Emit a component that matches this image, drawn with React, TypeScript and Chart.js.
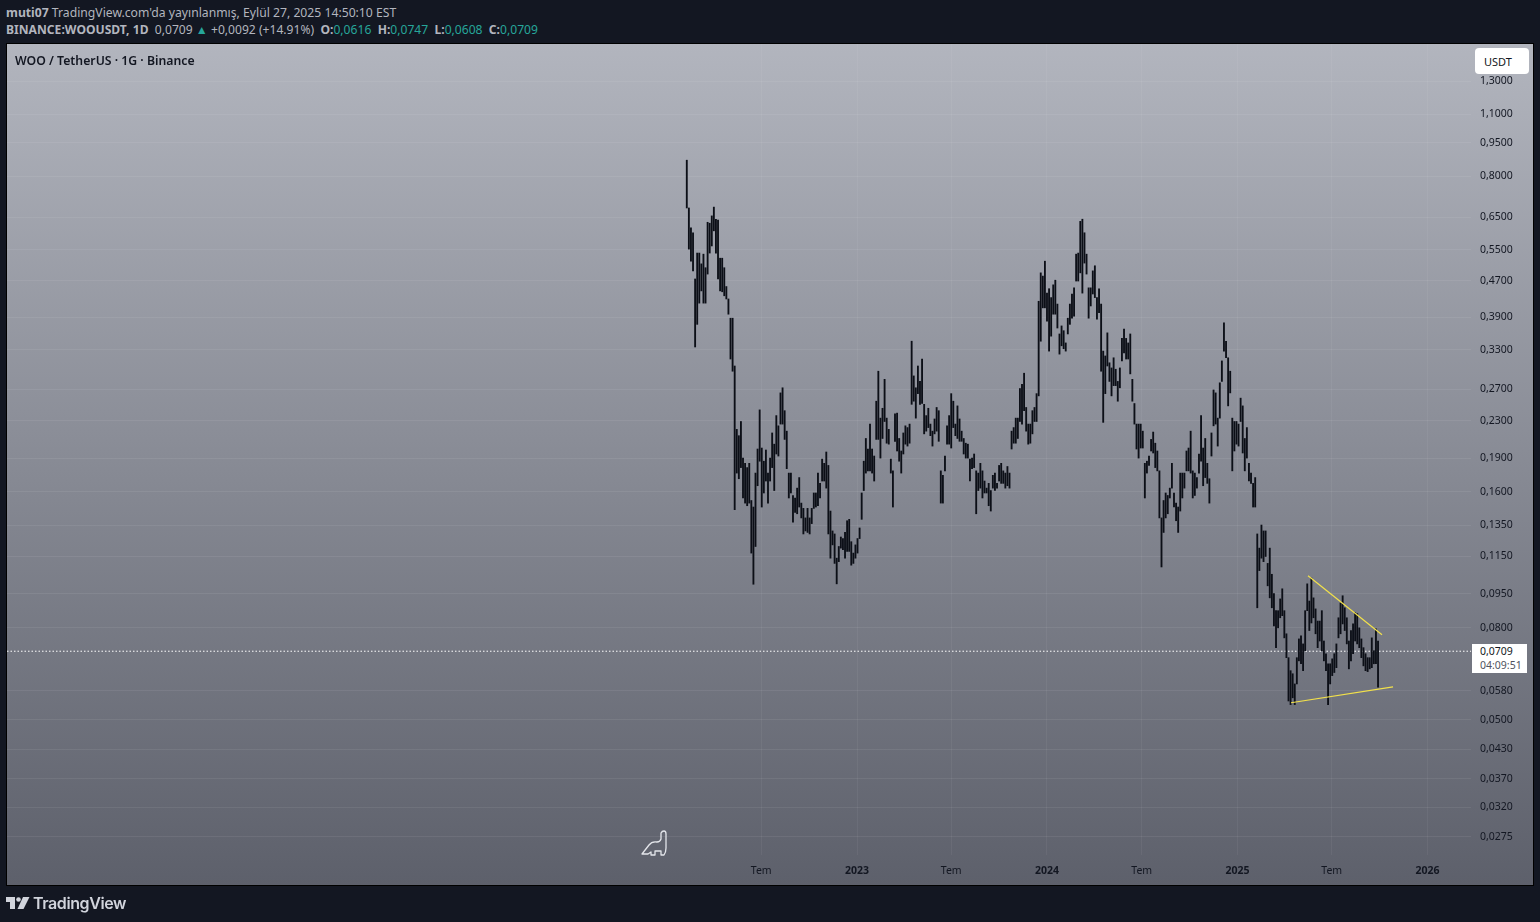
import React, { useEffect, useRef } from "react";
import { Chart, registerables } from "chart.js";

Chart.register(...registerables);

// Bars are sampled every 4 days; day numbers count from 2023-01-01.
const firstDay = -327;
const dayStep = 4;
const highs = [
.869,.681,.615,.600,.474,.541,.541,.512,.538,.502,.633,.630,.654,.684,.643,.640,.527,.527,.502,.456,
.428,.388,.388,.304,.220,.213,.229,.190,.185,.181,.185,.153,.148,.176,.199,.243,.200,.187,.198,.176,
.190,.216,.204,.236,.224,.265,.272,.242,.218,.176,.176,.157,.155,.163,.172,.151,.147,.140,.147,.140,
.147,.159,.159,.176,.167,.189,.185,.196,.183,.145,.131,.129,.114,.121,.127,.126,.130,.138,.139,.124,
.117,.122,.126,.133,.159,.187,.210,.199,.226,.199,.192,.254,.296,.233,.245,.284,.233,.220,.189,.178,
.238,.239,.210,.197,.216,.224,.222,.226,.345,.289,.272,.304,.281,.315,.250,.236,.245,.226,.218,.232,
.246,.242,.178,.174,.192,.224,.236,.264,.254,.226,.248,.232,.218,.210,.205,.204,.189,.190,.194,.178,
.176,.185,.178,.169,.163,.167,.161,.174,.176,.167,.183,.185,.178,.176,.182,.176,.218,.222,.233,.233,
.271,.277,.293,.246,.226,.226,.242,.246,.264,.423,.489,.481,.519,.441,.451,.431,.460,.471,.417,.358,
.373,.364,.342,.388,.417,.439,.453,.538,.541,.636,.643,.600,.538,.453,.453,.494,.507,.431,.451,.417,
.328,.320,.360,.309,.301,.317,.299,.281,.301,.350,.367,.350,.342,.358,.284,.251,.226,.226,.226,.218,
.185,.187,.192,.209,.217,.205,.197,.178,.140,.153,.159,.157,.163,.185,.159,.151,.148,.176,.176,.176,
.197,.200,.218,.178,.176,.172,.194,.236,.200,.210,.185,.171,.216,.269,.265,.233,.279,.312,.379,.345,
.317,.296,.233,.229,.229,.226,.258,.248,.210,.222,.185,.176,.167,.172,.129,.120,.135,.131,.131,.111,
.120,.105,.0951,.0872,.0872,.0926,.0975,.0872,.0775,.0686,.0642,.0632,.0600,.0686,.0755,.0767,.0736,.0872,.100,.0916,
.103,.0931,.0880,.0827,.0827,.0872,.0747,.0700,.0665,.0665,.0682,.0700,.0736,.0841,.0907,.0941,.0885,.0841,.0747,.0788,
.0815,.0863,.0859,.0799,.0755,.0722,.0700,.0686,.0686,.0759,.0711,.0795,.0747,
];
const lows = [
.681,.552,.519,.494,.335,.376,.419,.446,.419,.419,.486,.541,.561,.606,.541,.474,.446,.444,.435,.428,
.396,.315,.296,.146,.176,.171,.181,.155,.151,.149,.151,.117,.0998,.121,.165,.187,.148,.159,.169,.151,
.169,.181,.161,.194,.192,.226,.226,.209,.180,.155,.159,.137,.144,.143,.148,.140,.129,.131,.130,.129,
.136,.147,.148,.149,.155,.169,.169,.163,.129,.114,.122,.111,.100,.112,.120,.119,.114,.118,.118,.110,
.111,.114,.117,.126,.139,.161,.176,.178,.178,.176,.169,.209,.209,.190,.210,.229,.205,.204,.176,.148,
.207,.197,.187,.176,.194,.204,.202,.205,.250,.254,.233,.264,.250,.251,.215,.218,.222,.213,.202,.215,
.218,.207,.151,.151,.178,.204,.204,.200,.222,.213,.210,.207,.207,.194,.190,.190,.169,.180,.181,.143,
.161,.163,.155,.159,.159,.149,.145,.163,.161,.163,.169,.167,.167,.163,.165,.163,.199,.205,.205,.210,
.229,.226,.242,.218,.204,.205,.215,.229,.229,.261,.345,.409,.409,.382,.328,.354,.396,.396,.369,.323,
.337,.332,.328,.358,.376,.388,.392,.469,.469,.489,.441,.514,.486,.388,.413,.439,.431,.386,.399,.296,
.228,.264,.304,.281,.261,.275,.275,.254,.272,.312,.325,.315,.315,.292,.254,.226,.199,.190,.200,.200,
.155,.176,.183,.197,.195,.181,.178,.140,.109,.130,.140,.143,.155,.163,.148,.138,.130,.145,.155,.163,
.178,.178,.176,.155,.157,.163,.176,.187,.165,.172,.167,.151,.192,.224,.226,.202,.233,.281,.328,.317,
.248,.265,.178,.197,.204,.202,.229,.195,.178,.190,.169,.167,.148,.148,.0885,.107,.114,.112,.115,.0990,
.0931,.0885,.0807,.0722,.0799,.0841,.0850,.0759,.0686,.0550,.0540,.0559,.0540,.0600,.0675,.0665,.0642,.0711,.0872,.0788,
.0819,.0841,.0775,.0722,.0747,.0711,.0675,.0642,.0540,.0600,.0626,.0636,.0652,.0759,.0775,.0815,.0788,.0736,.0648,.0675,
.0700,.0747,.0736,.0722,.0686,.0658,.0642,.0639,.0648,.0652,.0665,.0665,.0590,
];
const priceTicks = [1.3, 1.1, 0.95, 0.8, 0.65, 0.55, 0.47, 0.39, 0.33, 0.27, 0.23, 0.19, 0.16, 0.135, 0.115, 0.095, 0.08, 0.058, 0.05, 0.043, 0.037, 0.032, 0.0275];
const timeTickDays = [-184, 0, 181, 365, 547, 731, 912, 1096];
const timeTickLabels = ["Tem", "2023", "Tem", "2024", "Tem", "2025", "Tem", "2026"];
const upperTrendDays = [866.5, 1008.6];
const upperTrendPrices = [0.1042, 0.0771];
const lowerTrendDays = [833.8, 1029.8];
const lowerTrendPrices = [0.0545, 0.0591];
const lastPrice = 0.0709;

const FONT = "'Noto Sans', sans-serif";
const INK = "#131722";

export default function App() {
  const ref = useRef<HTMLCanvasElement>(null);
  useEffect(() => {
    document.body.style.margin = "0";
    document.body.style.background = INK;
    const xMin = -1633;
    const xMax = 1179.6;
    const chart = new Chart(ref.current as HTMLCanvasElement, {
      type: "bar",
      data: {
        datasets: [
          {
            type: "line",
            data: [{ x: xMin, y: lastPrice }, { x: xMax, y: lastPrice }],
            borderColor: "#ffffff",
            borderWidth: 1,
            borderDash: [1.5, 2],
            pointRadius: 0,
            order: 3,
          },
          {
            type: "bar",
            data: highs.map((h, i) => ({ x: firstDay + i * dayStep, y: [lows[i], h] })),
            backgroundColor: "#0c0f17",
            borderWidth: 0,
            barThickness: 1.2,
            order: 2,
          },
          {
            type: "line",
            data: upperTrendDays.map((d, i) => ({ x: d, y: upperTrendPrices[i] })),
            borderColor: "#f2e14b",
            borderWidth: 1.2,
            pointRadius: 0,
            order: 1,
          },
          {
            type: "line",
            data: lowerTrendDays.map((d, i) => ({ x: d, y: lowerTrendPrices[i] })),
            borderColor: "#f2e14b",
            borderWidth: 1.2,
            pointRadius: 0,
            order: 1,
          },
        ] as any,
      },
      options: {
        animation: false,
        responsive: false,
        devicePixelRatio: 1,
        layout: { padding: { left: 7, top: 44, right: 7, bottom: 37 } },
        plugins: { legend: { display: false }, tooltip: { enabled: false }, title: { display: false } },
        scales: {
          x: {
            type: "linear",
            min: xMin,
            max: xMax,
            offset: false,
            afterBuildTicks: (s: any) => {
              s.ticks = timeTickDays.map((v) => ({ value: v }));
            },
            afterFit: (s: any) => {
              s.height = 30;
            },
            grid: { color: "rgba(255,255,255,0.05)", drawTicks: false, offset: false },
            border: { display: false },
            ticks: {
              autoSkip: false,
              maxRotation: 0,
              padding: 10,
              color: INK,
              font: (c: any) => ({
                family: FONT,
                size: 10.5,
                weight: /^\d/.test(timeTickLabels[timeTickDays.indexOf(c.tick?.value)] ?? "") ? "bold" : "normal",
              }),
              callback: (v: any) => timeTickLabels[timeTickDays.indexOf(v)] ?? "",
            },
          },
          y: {
            type: "logarithmic",
            position: "right",
            min: 0.02506,
            max: 1.5725,
            afterBuildTicks: (s: any) => {
              s.ticks = priceTicks.map((v) => ({ value: v }));
            },
            afterFit: (s: any) => {
              s.width = 62;
            },
            grid: { color: "rgba(255,255,255,0.07)", drawTicks: false },
            border: { display: false },
            ticks: {
              autoSkip: false,
              padding: 9,
              color: INK,
              font: { family: FONT, size: 10.5 },
              callback: (v: any) => Number(v).toFixed(4).replace(".", ","),
            },
          },
        },
      } as any,
    });
    return () => chart.destroy();
  }, []);

  const abs = (l: number, t: number, extra: React.CSSProperties = {}): React.CSSProperties => ({
    position: "absolute",
    left: l,
    top: t,
    fontFamily: FONT,
    whiteSpace: "nowrap",
    ...extra,
  });
  const teal = { color: "#26a69a" };
  return (
    <div style={{ position: "absolute", left: 0, top: 0, width: 1540, height: 922, background: INK, overflow: "hidden" }}>
      <div style={abs(6, 4, { fontSize: 12.2, color: "#b2b5be" })}>
        <b>muti07</b> TradingView.com'da yayınlanmış, Eylül 27, 2025 14:50:10 EST
      </div>
      <div style={abs(6, 21, { fontSize: 12.12, color: "#b2b5be" })}>
        <b>BINANCE:WOOUSDT, 1D</b>&nbsp; 0,0709 <span style={teal}>▲</span> +0,0092 (+14.91%)&nbsp; <b>O:</b>
        <span style={teal}>0,0616</span>&nbsp; <b>H:</b>
        <span style={teal}>0,0747</span>&nbsp; <b>L:</b>
        <span style={teal}>0,0608</span>&nbsp; <b>C:</b>
        <span style={teal}>0,0709</span>
      </div>
      <div
        style={{
          position: "absolute",
          left: 6,
          top: 43,
          width: 1526,
          height: 841,
          border: "1px solid #000",
          background: "linear-gradient(180deg, #b2b5be 0%, #5d606b 100%)",
        }}
      />
      <canvas ref={ref} width={1540} height={922} style={{ position: "absolute", left: 0, top: 0, width: 1540, height: 922 }} />
      <div style={abs(15, 52, { fontSize: 12.25, fontWeight: 600, color: INK })}>WOO / TetherUS · 1G · Binance</div>
      <div
        style={abs(1475, 48, {
          width: 54,
          height: 26,
          background: "#fff",
          borderRadius: 4,
          fontSize: 11,
          color: INK,
          lineHeight: "27px",
          textIndent: 9,
        })}
      >
        USDT
      </div>
      <div style={abs(1472, 644, { width: 55, height: 29, background: "#fff" })}>
        <div style={{ position: "absolute", left: 8, top: 0, fontSize: 10.5, lineHeight: "15px", color: INK }}>0,0709</div>
        <div style={{ position: "absolute", left: 8, top: 14, fontSize: 10.5, lineHeight: "15px", color: "#50535e" }}>04:09:51</div>
      </div>
      <svg style={{ position: "absolute", left: 640, top: 828 }} width="30" height="32" viewBox="0 0 30 32" fill="none" stroke="#e4e6eb" strokeWidth="1.3" strokeLinejoin="round">
        <path d="M2 26 L9 17 Q12 13 17 14 Q20 14 21 11 L21 5 Q22 3 24 3 Q26 3 26 6 L26 20 Q26 24 24 27 L21 27 L21 23 L15 23 L15 27 L11 27 L11 24 L8 26 Z" />
      </svg>
      <svg style={{ position: "absolute", left: 6, top: 895 }} width="24" height="16" viewBox="0 0 24 16" fill="#d1d4dc">
        <path d="M0 2 H9 V14 H4 V7 H0 Z" />
        <circle cx="12.5" cy="4.5" r="2.3" />
        <path d="M17 2 H23.5 L17.5 14 H11.5 Z" />
      </svg>
      <div style={abs(33, 893, { fontFamily: "Inter, sans-serif", fontSize: 16, fontWeight: 600, color: "#d1d4dc", letterSpacing: -0.4 })}>TradingView</div>
    </div>
  );
}
